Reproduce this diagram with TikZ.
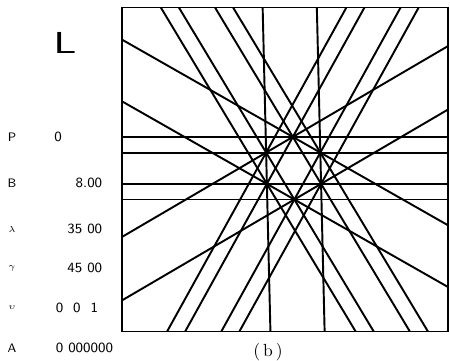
\documentclass[tikz,border=0pt]{standalone}
\usepackage{amsmath,tikz}

\begin{document}
\begin{tikzpicture}[x=.02cm,y=.02cm,line width=1.1pt,
  key/.style={font=\sffamily\scriptsize},
  num/.style={font=\sffamily\footnotesize}]
 \useasboundingbox (0,0) rectangle (450,360);
 % frame with the star pattern of lines
 \draw (122,28.5) rectangle (448,352.5);
 \begin{scope}
  \clip (122,28.5) rectangle (448,352.5);
  \begin{scope}[shift={(293.6,191.8)},xslant=-0.024]
   \foreach \a in {0,60,120}
    \foreach \d in {-31.3,-15.65,15.65,31.3}
     \draw[rotate=\a] (-320,\d) -- (320,\d);
   \foreach \a in {30,90,150}
    \foreach \d in {-27.1,27.1}
     \draw[rotate=\a] (-320,\d) -- (320,\d);
  \end{scope}
 \end{scope}
 \node (cap) at (268,8) {(\,b\,)};
 % parameter column on the left
 \node[font=\sffamily\LARGE,xscale=1.5] (ell) at (65,317) {L};
 \node[key] (kP) at (12,223) {P};
 \node[key] (kB) at (12,177) {B};
 \node[key] (kl) at (12,131) {$\scriptstyle\lambda$};
 \node[key] (kg) at (12,92) {$\scriptstyle\gamma$};
 \node[key] (ku) at (12,52) {$\scriptstyle\upsilon$};
 \node[key] (ka) at (12,12) {A};
 \node[num] (vP) at (58,223) {0};
 \node[num,anchor=east] (vB) at (109,177) {8.00};
 \node[num,anchor=east] (vl) at (109,131) {35 00};
 \node[num,anchor=east] (vg) at (109,92) {45 00};
 \node[num,anchor=west] (vu) at (49,52) {0\ \ 0\ \ 1};
 \node[num,anchor=west] (va) at (49,12) {0 000000};
\end{tikzpicture}
\end{document}
